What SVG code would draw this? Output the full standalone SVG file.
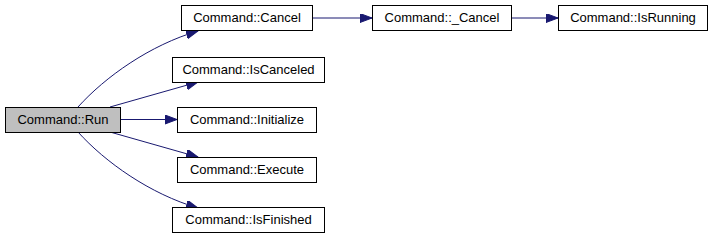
<svg xmlns="http://www.w3.org/2000/svg" width="713" height="240" viewBox="0 0 713 240">
  <style>
    .node rect { fill: #ffffff; stroke: #000000; stroke-width: 1; }
    .node.root rect { fill: #bfbfbf; }
    .node text { font-family: "Liberation Sans", Arial, sans-serif; font-size: 13px; fill: #000000; text-anchor: middle; }
    .edge { fill: none; stroke: #191970; stroke-width: 1; marker-end: url(#arrow); }
  </style>
  <defs>
    <marker id="arrow" markerUnits="userSpaceOnUse" markerWidth="14" markerHeight="11" refX="12" refY="4.5" orient="auto">
      <path d="M0,0 L12,4.5 L0,9 z" fill="#191970" stroke="#191970" stroke-width="1"/>
    </marker>
  </defs>

  <rect width="713" height="240" fill="#ffffff"/>

  <g id="edges">
    <path class="edge" d="M78,107 C105,77 150,45 198,31"/>
    <path class="edge" d="M110,107 L198,82"/>
    <path class="edge" d="M120,119.5 L177,119.5"/>
    <path class="edge" d="M110,132 L198,157"/>
    <path class="edge" d="M78,132 C105,162 150,194 198,208"/>
    <path class="edge" d="M312,18 L372,18"/>
    <path class="edge" d="M511,18 L558,18"/>
  </g>

  <g id="node-run" class="node root">
    <rect x="5.5" y="107.5" width="115" height="25"/>
    <text x="63" y="124">Command::Run</text>
  </g>
  <g id="node-cancel" class="node">
    <rect x="181.5" y="5.5" width="131" height="25"/>
    <text x="247" y="22">Command::Cancel</text>
  </g>
  <g id="node-iscanceled" class="node">
    <rect x="172.5" y="57.5" width="152" height="25"/>
    <text x="248.5" y="74">Command::IsCanceled</text>
  </g>
  <g id="node-initialize" class="node">
    <rect x="177.5" y="107.5" width="139" height="25"/>
    <text x="247" y="124">Command::Initialize</text>
  </g>
  <g id="node-execute" class="node">
    <rect x="177.5" y="157.5" width="139" height="25"/>
    <text x="247" y="174">Command::Execute</text>
  </g>
  <g id="node-isfinished" class="node">
    <rect x="172.5" y="207.5" width="152" height="25"/>
    <text x="248.5" y="224">Command::IsFinished</text>
  </g>
  <g id="node-_cancel" class="node">
    <rect x="372.5" y="5.5" width="139" height="25"/>
    <text x="442" y="22">Command::_Cancel</text>
  </g>
  <g id="node-isrunning" class="node">
    <rect x="558.5" y="5.5" width="149" height="25"/>
    <text x="633" y="22">Command::IsRunning</text>
  </g>
</svg>
